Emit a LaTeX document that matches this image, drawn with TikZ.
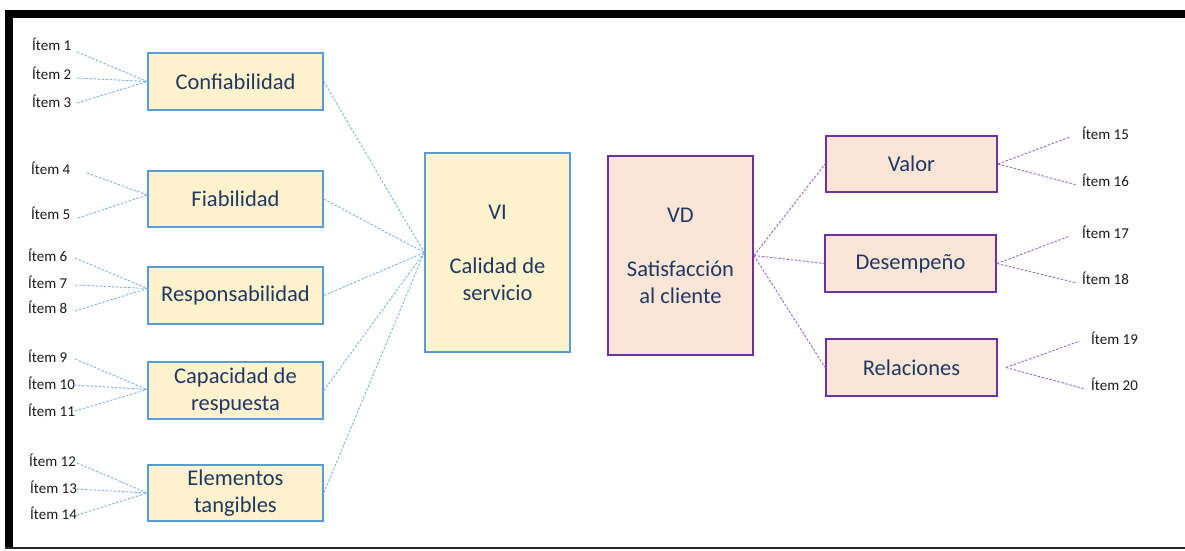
\documentclass[tikz,border=0pt]{standalone}
\usepackage{fontspec}
\setmainfont{Carlito}
\definecolor{navytext}{HTML}{1F3864}
\definecolor{itemtext}{HTML}{1A1A1A}
\definecolor{ivline}{HTML}{5B9BD5}
\definecolor{ivfill}{HTML}{FFF2CC}
\definecolor{ivdash}{HTML}{7FB2E3}
\definecolor{dvline}{HTML}{7030A0}
\definecolor{dvfill}{HTML}{FBE5D6}
\definecolor{dvdash}{HTML}{9A66CC}
\tikzset{
  box/.style={rectangle, inner sep=0pt, align=center,
    font=\fontsize{22.5}{27}\selectfont, text=navytext},
  ivbox/.style={box, draw=ivline, fill=ivfill, line width=1.5pt},
  dvbox/.style={box, draw=dvline, fill=dvfill, line width=1.8pt},
  item/.style={anchor=base west, inner sep=0pt,
    font=\fontsize{15}{18}\selectfont, text=itemtext},
  ivlink/.style={draw=ivdash, line width=0.9pt, dash pattern=on 2.5pt off 1.6pt},
  dvlink/.style={draw=dvdash, line width=0.9pt, dash pattern=on 2.5pt off 1.6pt},
}
\begin{document}
\begin{tikzpicture}[x=1pt,y=-1pt]
\useasboundingbox (0,0) rectangle (1185,550);

% frame
\fill[black] (5,10) rectangle (1185,18);
\fill[black] (5,10) rectangle (13,549);
\draw[black!85, line width=2pt] (5,548) -- (1185,548);

% dimension boxes of the independent variable
\node[ivbox, minimum width=175pt, minimum height=57pt] (conf) at (235.5,81.5) {Confiabilidad};
\node[ivbox, minimum width=175pt, minimum height=56pt] (fiab) at (235.5,199) {Fiabilidad};
\node[ivbox, minimum width=175pt, minimum height=57pt] (resp) at (235.5,295.5) {Responsabilidad};
\node[ivbox, minimum width=175pt, minimum height=57pt] (cap) at (235.5,390.5) {Capacidad de\\respuesta};
\node[ivbox, minimum width=175pt, minimum height=56pt] (elem) at (235.5,493) {Elementos\\tangibles};

% variables
\node[ivbox, minimum width=145pt, minimum height=199pt] (vi) at (497.5,252.5) {VI\\[27pt]Calidad de\\servicio};
\node[dvbox, minimum width=145pt, minimum height=199pt] (vd) at (680.5,255.5) {VD\\[27pt]Satisfacción\\al cliente};

% dimension boxes of the dependent variable
\node[dvbox, minimum width=171pt, minimum height=56pt] (valor) at (911.5,164) {Valor};
\node[dvbox, minimum width=171pt, minimum height=57pt] (desem) at (910.5,263.5) {Desempeño};
\node[dvbox, minimum width=171pt, minimum height=57pt] (rel) at (911.5,367.5) {Relaciones};

% items, left side
\node[item] (i1) at (32,50) {Ítem 1};
\node[item] (i2) at (32,79) {Ítem 2};
\node[item] (i3) at (32,107) {Ítem 3};
\node[item] (i4) at (31,174) {Ítem 4};
\node[item] (i5) at (31,219) {Ítem 5};
\node[item] (i6) at (28,261) {Ítem 6};
\node[item] (i7) at (28,288) {Ítem 7};
\node[item] (i8) at (28,313) {Ítem 8};
\node[item] (i9) at (28,362) {Ítem 9};
\node[item] (i10) at (28,389) {Ítem 10};
\node[item] (i11) at (28,416) {Ítem 11};
\node[item] (i12) at (29,466) {Ítem 12};
\node[item] (i13) at (30,493) {Ítem 13};
\node[item] (i14) at (30,519) {Ítem 14};

% items, right side
\node[item] (i15) at (1082,139) {Ítem 15};
\node[item] (i16) at (1082,186) {Ítem 16};
\node[item] (i17) at (1082,238) {Ítem 17};
\node[item] (i18) at (1082,284) {Ítem 18};
\node[item] (i19) at (1091,344) {Ítem 19};
\node[item] (i20) at (1091,390) {Ítem 20};

% free ends of the item links
\coordinate (c1) at (77,52);
\coordinate (c2) at (77,78);
\coordinate (c3) at (77,103);
\coordinate (c4) at (87,173);
\coordinate (c5) at (78,218);
\coordinate (c6) at (75,258);
\coordinate (c7) at (75,285);
\coordinate (c8) at (75,311);
\coordinate (c9) at (75,359);
\coordinate (c10) at (74,385);
\coordinate (c11) at (75,411);
\coordinate (c12) at (77,463);
\coordinate (c13) at (77,489);
\coordinate (c14) at (77,515);
\coordinate (c15) at (1070,137);
\coordinate (c16) at (1077,185);
\coordinate (c17) at (1070,236);
\coordinate (c18) at (1077,283);
\coordinate (c19) at (1080,341);
\coordinate (c20) at (1085,389);

% item links, left side
\foreach \c in {c1,c2,c3} \draw[ivlink] (\c) -- (conf.west);
\foreach \c in {c4,c5} \draw[ivlink] (\c) -- ([yshift=4pt]fiab.west);
\foreach \c in {c6,c7,c8} \draw[ivlink] (\c) -- ([yshift=7pt]resp.west);
\foreach \c in {c9,c10,c11} \draw[ivlink] (\c) -- ([yshift=1pt]cap.west);
\foreach \c in {c12,c13,c14} \draw[ivlink] (\c) -- (elem.west);

% dimensions to VI
\foreach \n in {conf,fiab,resp,cap,elem} \draw[ivlink] (\n.east) -- (vi.west);

% VD to dimensions
\foreach \n in {valor,desem,rel} \draw[dvlink] (vd.east) -- (\n.west);

% item links, right side
\foreach \c in {c15,c16} \draw[dvlink] (valor.east) -- (\c);
\foreach \c in {c17,c18} \draw[dvlink] (desem.east) -- (\c);
\foreach \c in {c19,c20} \draw[dvlink] ([xshift=8pt]rel.east) -- (\c);
\end{tikzpicture}
\end{document}
